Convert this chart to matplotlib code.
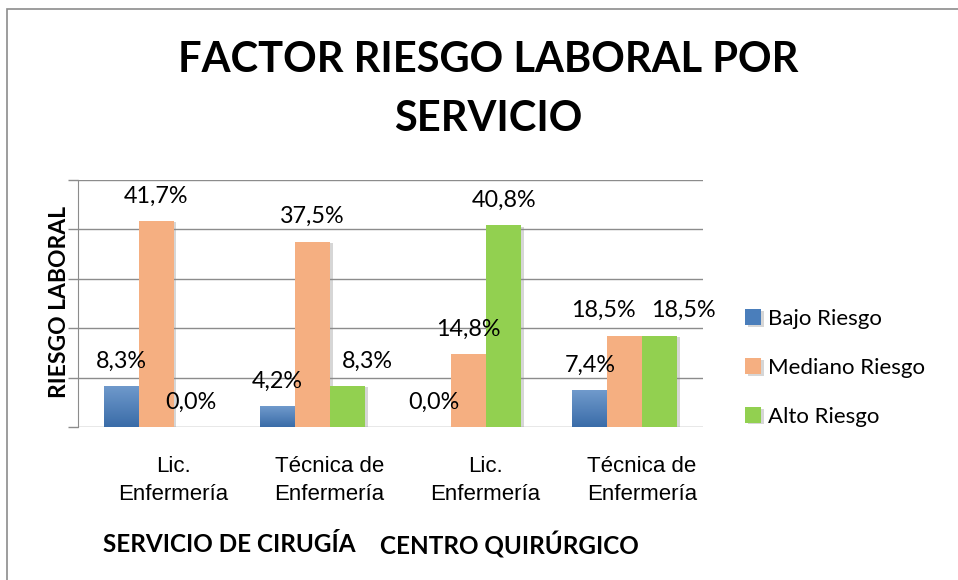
import matplotlib
matplotlib.use("Agg")
import matplotlib.pyplot as plt
import matplotlib.patheffects as pe
from matplotlib.patches import Rectangle
from matplotlib.colors import LinearSegmentedColormap
from matplotlib.transforms import ScaledTranslation
import numpy as np

# datos
categories = ["Lic.\nEnfermería", "Técnica de\nEnfermería", "Lic.\nEnfermería", "Técnica de\nEnfermería"]
series_names = ["Bajo Riesgo", "Mediano Riesgo", "Alto Riesgo"]
bajo = [8.3, 4.2, 0.0, 7.4]
mediano = [41.7, 37.5, 14.8, 18.5]
alto = [0.0, 8.3, 40.8, 18.5]
group_labels = ["SERVICIO DE CIRUGÍA", "CENTRO QUIRÚRGICO"]
title = "FACTOR RIESGO LABORAL POR\nSERVICIO"
ylabel = "RIESGO LABORAL"

colors = ["#4A7EBB", "#F5AF81", "#92D050"]
# desplazamiento horizontal (px) de algunas etiquetas, como en Excel
label_dx = [[0, 0, 0, 0], [0, 0, 0, -21], [0, 20, 0, 24]]

plt.rcParams['font.family'] = ['Lato', 'DejaVu Sans']

fig = plt.figure(figsize=(9.58, 5.80), dpi=100)
ax = fig.add_axes([78 / 958, 153 / 580, 625 / 958, 247 / 580])

x = np.arange(len(categories))
w = 0.224
blue_cmap = LinearSegmentedColormap.from_list("blue", ["#3A6CA8", "#709ACC"])
shadow = [pe.SimplePatchShadow(offset=(2, -1), shadow_rgbFace="0.55", alpha=0.35), pe.Normal()]

for i, (vals, col) in enumerate(zip([bajo, mediano, alto], colors)):
    bars = ax.bar(x + (i - 1) * w, vals, w, color=col, label=series_names[i], zorder=3,
                  path_effects=shadow)
    if i == 0:
        grad = np.linspace(0, 1, 100).reshape(-1, 1)
        for b in bars:
            if b.get_height() <= 0:
                continue
            im = ax.imshow(grad, cmap=blue_cmap, origin="lower", aspect="auto", zorder=4,
                           extent=[b.get_x(), b.get_x() + b.get_width(), 0, b.get_height()])
            im.set_clip_path(b)
    for j, b in enumerate(bars):
        ax.annotate(f"{vals[j]:.1f}%".replace(".", ","),
                    (b.get_x() + b.get_width() / 2, b.get_height()),
                    xytext=(label_dx[i][j], 25), textcoords="offset pixels",
                    ha="center", va="center", fontsize=16.8, color="black", zorder=5)

ax.set_xlim(-0.5, 3.5)
ax.set_ylim(0, 50)
ax.set_yticks(np.arange(0, 51, 10))
ax.set_yticklabels([])
ax.grid(axis="y", color="#8C8C8C", linewidth=1, zorder=0)
ax.tick_params(axis="y", length=7, color="#8C8C8C", width=1, direction="out")
for s in ["top", "right", "bottom"]:
    ax.spines[s].set_visible(False)
ax.spines["left"].set_color("#8C8C8C")

ax.set_xticks(x)
ax.set_xticklabels(categories, fontsize=16, family=["Liberation Sans", "DejaVu Sans"],
                   linespacing=1.45)
ax.tick_params(axis="x", length=0, pad=21)
for lab in ax.get_xticklabels():
    lab.set_transform(lab.get_transform() + ScaledTranslation(0.17, 0, fig.dpi_scale_trans))

ax.set_ylabel(ylabel, fontsize=16.5, fontweight="bold", va="center")
ax.yaxis.set_label_coords(-0.03, 0.506)

fig.text(488 / 958, 1 - 89.5 / 580, title, ha="center", va="center", fontsize=30,
         fontweight="bold", linespacing=1.65)
fig.text(229 / 958, 1 - 545 / 580, group_labels[0], ha="center", va="center",
         fontsize=17.5, fontweight="bold")
fig.text(509 / 958, 1 - 545 / 580, group_labels[1], ha="center", va="center",
         fontsize=17.5, fontweight="bold")

ax.legend(loc="center left", bbox_to_anchor=(745 / 958, 1 - 368 / 580),
          bbox_transform=fig.transFigure, frameon=False, fontsize=16,
          handlelength=0.72, handleheight=0.72, handletextpad=0.3,
          labelspacing=1.3, borderpad=0, borderaxespad=0)

# marco del grafico (solo se ven borde superior e izquierdo)
fig.patches.append(Rectangle((7 / 958, -0.1), 1.2, 1 - 9.5 / 580 + 0.1,
                             transform=fig.transFigure, fill=False,
                             edgecolor="#8C8C8C", linewidth=1.2))

fig.savefig("out.png", dpi=100)
